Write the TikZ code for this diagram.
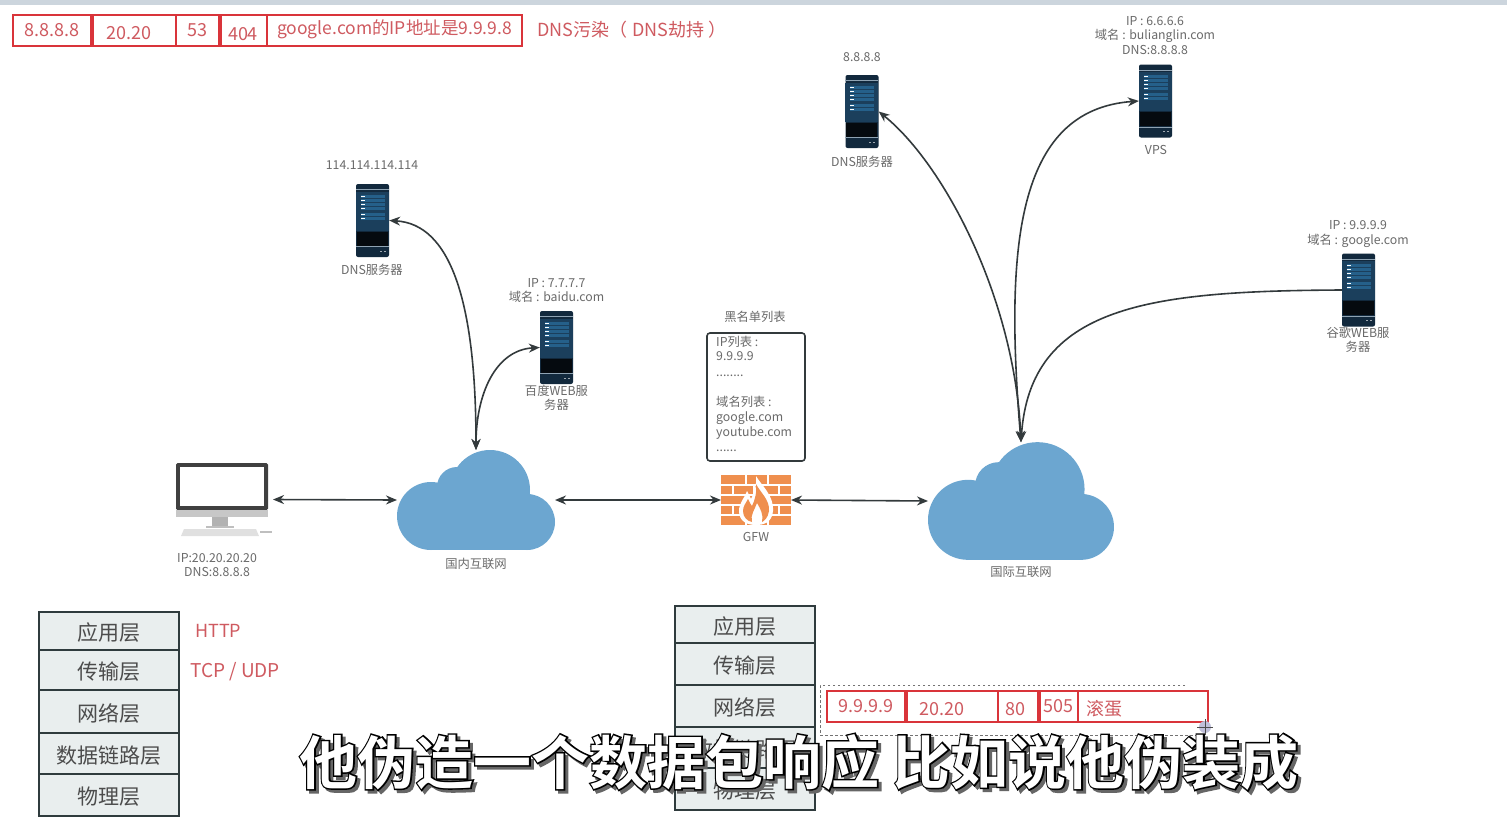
\documentclass[tikz,border=0pt]{standalone}
\usepackage{fontspec}
\setmainfont{Noto Sans CJK SC}
\newfontfamily\subfont{Noto Sans CJK SC Bold}
\newfontfamily\suboutline[FakeBold=5]{Noto Sans CJK SC Bold}
\usetikzlibrary{arrows.meta,calc}
\definecolor{pktred}{HTML}{D9343A}
\definecolor{pkttext}{HTML}{CF5A60}
\definecolor{lbl}{HTML}{6A6A6A}
\definecolor{srvdark}{HTML}{12293D}
\definecolor{srvmid}{HTML}{1B3F5C}
\definecolor{srvbar}{HTML}{25608A}
\definecolor{srvline}{HTML}{8FA3B3}
\definecolor{cloudblue}{HTML}{6CA6D0}
\definecolor{brick}{HTML}{EF8F4E}
\definecolor{layerfill}{HTML}{E9EEEE}
\definecolor{layerline}{HTML}{2F3B3D}
\definecolor{linkc}{HTML}{333A3C}
\definecolor{topbar}{HTML}{CCD5DD}
\newcommand\serverart[1]{%
  \begin{scope}[shift={(#1.north west)}]
    \fill[srvmid] (0,8) rectangle (33,47);
    \fill[srvline] (0,5.5) rectangle (33,6.5);
    \fill[srvline] (0,62.5) rectangle (33,63.5);
    \foreach \yy in {11,15,19,23,29,33}{
      \fill[srvbar] (5,\yy) rectangle (29,\yy+3);
      \fill[white] (5,\yy+1) rectangle (9,\yy+2);
    }
    \fill[black!75!srvdark] (1,48) rectangle (32,62);
    \fill[white!60!srvdark] (24,67) rectangle (26,68);
    \fill[white!60!srvdark] (28,67) rectangle (30,68);
  \end{scope}}
\newcommand\cloudart[2]{%
  \begin{scope}[shift={(#1.north west)},scale=#2]
    \fill[cloudblue] (93,40) circle (40);
    \fill[cloudblue] (34,66) circle (34);
    \fill[cloudblue] (60,37) circle (20);
    \fill[cloudblue] (130,72) circle (28);
    \fill[cloudblue] (34,60) rectangle (130,100);
    \fill[cloudblue] (55,40) rectangle (125,80);
  \end{scope}}
\newcommand\gfwart[1]{%
  \begin{scope}[shift={(#1.north west)}]
    \fill[brick] (0,0) rectangle (70,50);
    \foreach \yy in {10,20,30,40}{\fill[white] (0,\yy-.7) rectangle (70,\yy+.7);}
    \foreach \xa/\ya in {25/0,47/0,12/10,33/10,58/10,25/20,47/20,12/30,58/30,25/40,47/40}{
      \fill[white] (\xa-.7,\ya) rectangle (\xa+.7,\ya+10);}
    \fill[white] (35,1) .. controls (40,10) and (53,20) .. (52,36) .. controls (51,48) and (42,50) .. (35,50)
       .. controls (27,50) and (18,47) .. (18,36) .. controls (18,28) and (23,24) .. (26,16) .. controls (28,20) and (29,22) .. (30,24) .. controls (33,18) and (36,10) .. (35,1) -- cycle;
    \fill[brick] (35,9) .. controls (39,17) and (49,25) .. (48,36) .. controls (47,43) and (43,46) .. (41,47)
       .. controls (43,40) and (39,33) .. (36,28) .. controls (34,34) and (29,40) .. (31,47) .. controls (26,46) and (22,42) .. (22,36) .. controls (22,31) and (25,28) .. (27,24) .. controls (29,28) and (30,30) .. (31,31) .. controls (34,25) and (36,17) .. (35,9) -- cycle;
  \end{scope}}
\newcommand\pcart[1]{%
  \begin{scope}[shift={(#1.north west)}]
    \fill[black!75,rounded corners=1.5] (0,0) rectangle (92,47);
    \fill[white] (4,4) rectangle (88,43);
    \fill[black!22] (0,47) rectangle (92,54);
    \fill[black!30] (36,54) rectangle (52,63);
    \fill[black!25] (30,63) rectangle (58,65);
    \fill[black!12] (8,66) -- (80,66) -- (83,73) -- (5,73) -- cycle;
    \fill[black!25] (84,68) rectangle (96,70);
  \end{scope}}
\newcommand\lowtxt[1]{\rule{0pt}{21.5pt}#1}
\newcommand\lowdig[1]{\rule{0pt}{18pt}#1}
\tikzset{
  lab/.style={text=lbl,font=\fontsize{12.3}{14.5}\selectfont,align=center,inner sep=0},
  serverbox/.style={rectangle,fill=srvdark,rounded corners=2,minimum width=33,minimum height=73,inner sep=0},
  cloudbox/.style={rectangle,minimum width=158*#1,minimum height=100*#1,inner sep=0,outer sep=0},
  firewall/.style={rectangle,minimum width=70,minimum height=50,inner sep=0,outer sep=0},
  pcbox/.style={rectangle,minimum width=97,minimum height=73,inner sep=0,outer sep=0},
  link/.style={draw=linkc,line width=1.6,-{Stealth[length=11,width=9]}},
  dlink/.style={draw=linkc,line width=1.6,{Stealth[length=11,width=9]}-{Stealth[length=11,width=9]}},
  layer/.style={draw=layerline,fill=layerfill,line width=1.6,minimum width=140,inner sep=0,outer sep=0,
     font=\fontsize{21}{24}\selectfont,text=black!70},
  pktcell/.style={draw=pktred,line width=2,inner sep=0,text=pkttext,font=\fontsize{18}{22}\selectfont},
  pkttxt/.style={text=pkttext,inner sep=0,font=\fontsize{19}{22}\selectfont},
  thickdiv/.style={draw=pktred,line width=3.2},
}
\begin{document}
\begin{tikzpicture}[x=1pt,y=-1pt]
\useasboundingbox (0,0) rectangle (1507,830);
\fill[white] (0,0) rectangle (1507,830);
\fill[topbar] (0,0) rectangle (1507,5);

% top packet
\node[pktcell,minimum width=78,minimum height=31] (t1) at (52,30.5) {8.8.8.8};
\node[pktcell,minimum width=85,minimum height=31] (t2) at (133.5,30.5) {\hspace{-9pt}\lowdig{20.20}};
\node[pktcell,minimum width=43,minimum height=31] (t3) at (197.5,30.5) {53};
\node[pktcell,minimum width=48,minimum height=31] (t4) at (243,30.5) {\rule{0pt}{20pt}404};
\node[pktcell,minimum width=255,minimum height=31,line width=1.5] (t5) at (394.5,30.5) {\rule[-6.5pt]{0pt}{6.5pt}\fontsize{17.5}{20}\selectfont google.com的IP地址是9.9.9.8};
\draw[thickdiv] ([yshift=-2]t1.north east) -- ([yshift=2]t1.south east);
\draw[thickdiv] ([yshift=-2]t3.north east) -- ([yshift=2]t3.south east);
\node[pkttxt,anchor=west,font=\fontsize{18}{22}\selectfont] (tnote) at (537,30) {DNS污染（\hspace{5pt}DNS劫持\hspace{4pt}）};

% servers
\node[serverbox] (s1) at (372.5,220.5) {};
\node[serverbox] (s2) at (556.5,347.5) {};
\node[serverbox] (s3) at (862,111.5) {};
\node[serverbox] (s4) at (1155.5,101) {};
\node[serverbox] (s5) at (1358.5,290) {};
\serverart{s1}\serverart{s2}\serverart{s3}\serverart{s4}\serverart{s5}
\node[lab] (s1a) at (372,165) {114.114.114.114};
\node[lab] (s1b) at (372,269.5) {DNS服务器};
\node[lab] (s2a) at (556.5,290.5) {IP : 7.7.7.7\\域名 : baidu.com};
\node[lab] (s2b) at (556.5,398) {百度WEB服\\务器};
\node[lab] (s3a) at (862,57) {8.8.8.8};
\node[lab] (s3b) at (862,161.5) {DNS服务器};
\node[lab] (s4a) at (1155,35.5) {IP : 6.6.6.6\\域名 : bulianglin.com\\DNS:8.8.8.8};
\node[lab] (s4b) at (1156,150) {VPS};
\node[lab] (s5a) at (1358,234) {IP : 9.9.9.9\\域名 : google.com};
\node[lab] (s5b) at (1358,340) {谷歌WEB服\\务器};

% clouds, pc, firewall
\node[cloudbox=1] (c1) at (476,500) {};
\node[cloudbox=1.177] (c2) at (1021,501) {};
\cloudart{c1}{1}\cloudart{c2}{1.177}
\node[lab] (c1l) at (476,564) {国内互联网};
\node[lab] (c2l) at (1021,572) {国际互联网};
\node[pcbox,anchor=north west] (pc) at (176,463) {};
\pcart{pc}
\node[lab] (pcl) at (217,565) {IP:20.20.20.20\\DNS:8.8.8.8};
\node[firewall] (gfw) at (756,500) {};
\gfwart{gfw}
\node[lab] (gfwl) at (756,537) {GFW};

% blacklist
\node[lab] (blt) at (755,317) {黑名单列表};
\node[draw=linkc,line width=1.6,rounded corners=3,minimum width=98,minimum height=128,inner sep=0] (bl) at (756,397) {};
\node[lab,align=left,anchor=north west] (bl1) at (716,335.5) {IP列表 :\\9.9.9.9};
\node[lab,anchor=west] (bl2) at (716,376) {........};
\node[lab,align=left,anchor=north west] (bl3) at (716,395.5) {域名列表 :\\[.5pt]google.com\\[1pt]youtube.com};
\node[lab,anchor=west] (bl4) at (716,451) {......};

% connectors
\draw[dlink] (pc.east) -- (c1.west);
\draw[dlink] (c1.east) -- (gfw.west);
\draw[dlink] (gfw.east) -- (c2.west);
\draw[dlink] (c1.north) .. controls (476,300) and (450,224) .. (s1.east);
\draw[dlink] (c1.north) .. controls (476,395) and (495,350) .. (s2.west);
\draw[dlink] (c2.north) .. controls (1015,300) and (945,165) .. (s3.east);
\draw[dlink] (c2.north) .. controls (1005,250) and (1015,110) .. (s4.west);
\draw[link] (s5.west) .. controls (1150,291) and (1030,305) .. (c2.north);

% left layers
\node[layer,minimum height=38,anchor=north west] (l1) at (39,612) {\lowtxt{应用层}};
\node[layer,minimum height=40,anchor=north west] (l2) at (39,650) {\lowtxt{传输层}};
\node[layer,minimum height=43,anchor=north west] (l3) at (39,690) {\lowtxt{网络层}};
\node[layer,minimum height=41,anchor=north west] (l4) at (39,733) {\lowtxt{数据链路层}};
\node[layer,minimum height=42,anchor=north west] (l5) at (39,774) {\lowtxt{物理层}};
\node[pkttxt,anchor=west,font=\fontsize{18}{22}\selectfont] (http) at (195,631) {HTTP};
\node[pkttxt,anchor=west] (tcp) at (190,672) {TCP / UDP};

% right layers
\node[layer,minimum height=37,anchor=north west] (r1) at (675,606) {\lowtxt{应用层}};
\node[layer,minimum height=42,anchor=north west] (r2) at (675,643) {\lowtxt{传输层}};
\node[layer,minimum height=42,anchor=north west] (r3) at (675,685) {\lowtxt{网络层}};
\node[layer,minimum height=41,anchor=north west] (r4) at (675,727) {\lowtxt{数据链路层}};
\node[layer,minimum height=42,anchor=north west] (r5) at (675,768) {\lowtxt{物理层}};

% bottom packet
\draw[black!55,dash pattern=on 2.5pt off 2.5pt,line width=.9] (1185,685) -- (820,685) -- (820,735) -- (1205,735);
\node[pktcell,minimum width=78,minimum height=31] (b1) at (866,706.5) {9.9.9.9};
\node[pktcell,minimum width=93,minimum height=31] (b2) at (951.5,706.5) {\hspace{-20pt}\lowdig{20.20}};
\node[pktcell,minimum width=40,minimum height=31] (b3) at (1018,706.5) {\hspace{-6pt}\lowdig{80}};
\node[pktcell,minimum width=40,minimum height=31] (b4) at (1058,706.5) {505};
\node[pktcell,minimum width=130,minimum height=31,text width=120,align=left] (b5) at (1143,706.5) {\rule{0pt}{20pt}\hspace{3pt}滚蛋};
\draw[thickdiv] ([yshift=-1]b1.north east) -- ([yshift=1]b1.south east);
\draw[thickdiv] ([yshift=-1]b3.north east) -- ([yshift=1]b3.south east);
% cursor
\fill[blue!40!black!25] (1205,727) circle (6);
\draw[black!70,line width=.8] (1197,727) -- (1213,727) (1205,719) -- (1205,735);

% subtitle
\node[inner sep=0,text=black!60,font=\fontsize{58}{62}\suboutline] (subs) at (802,765) {他伪造一个数据包响应 比如说他伪装成};
\node[inner sep=0,text=black,font=\fontsize{58}{62}\suboutline] (subo) at (799,762) {他伪造一个数据包响应 比如说他伪装成};
\node[inner sep=0,text=white,font=\fontsize{58}{62}\subfont] (subt) at (799,762) {他伪造一个数据包响应 比如说他伪装成};
\end{tikzpicture}
\end{document}
